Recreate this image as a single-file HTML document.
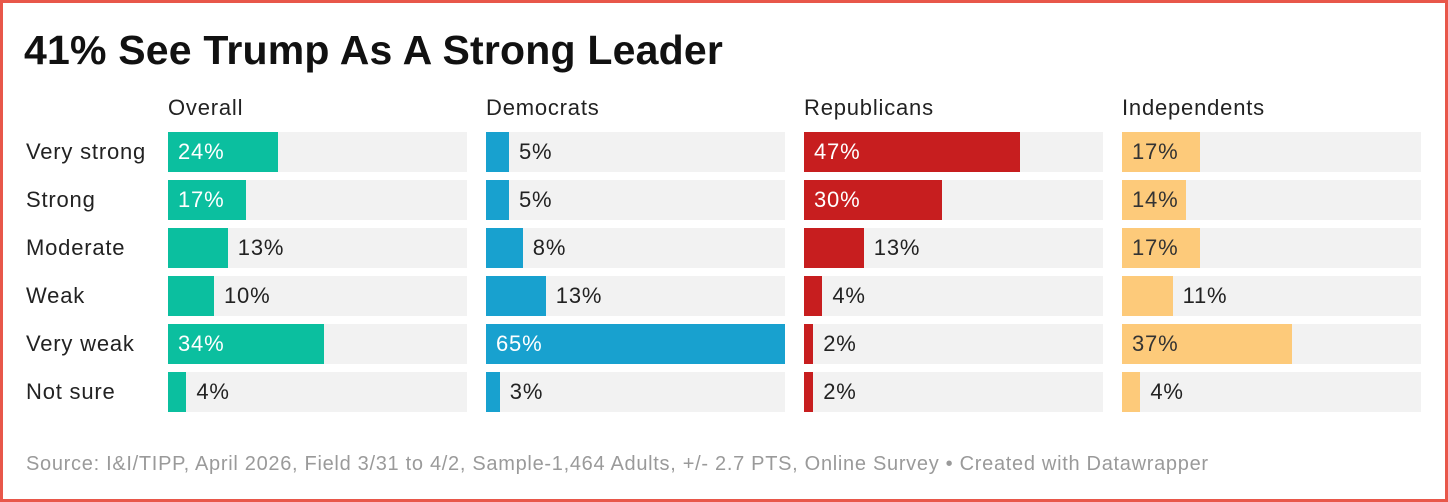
<!DOCTYPE html>
<html><head><meta charset="utf-8">
<style>
body{margin:0;width:1448px;height:502px;overflow:hidden;background:#fff;font-family:"Liberation Sans",sans-serif;}
#frame{position:absolute;left:0;top:0;width:1442px;height:496px;border:3px solid #e8574a;}
#title{position:absolute;left:24px;top:27px;font-size:41px;font-weight:bold;color:#111;letter-spacing:0.2px;}
#footer{position:absolute;left:26px;top:453px;font-size:20px;color:#9a9a9a;letter-spacing:0.7px;}
.t{position:absolute;font-size:22px;color:#222;white-space:nowrap;line-height:40px;letter-spacing:0.8px;}
.h{position:absolute;font-size:22px;color:#222;top:95px;letter-spacing:0.8px;}
</style></head><body>
<div id="frame"></div>
<div id="title">41% See Trump As A Strong Leader</div>
<div id="chart"></div>
<div id="footer">Source: I&amp;I/TIPP, April 2026, Field 3/31 to 4/2, Sample-1,464 Adults, +/- 2.7 PTS, Online Survey • Created with Datawrapper</div>
<script>
const categories=["Very strong","Strong","Moderate","Weak","Very weak","Not sure"];
const groups=["Overall","Democrats","Republicans","Independents"];
const overall=[24,17,13,10,34,4];
const democrats=[5,5,8,13,65,3];
const republicans=[47,30,13,4,2,2];
const independents=[17,14,17,11,37,4];
const series=[overall,democrats,republicans,independents];
const colors=["#0bbf9f","#18a1cf","#c71e1f","#fdca7a"];
const darkText=[false,false,false,true];
const maxVal=65;
const panelX=[168,486,804,1122], panelW=299;
const rowTop=132, rowStep=48, barH=40;
const xScale=v=>v/maxVal*panelW;
const y=i=>rowTop+i*rowStep;
const chart=document.getElementById('chart');
function mk(tag,cls){const e=document.createElement(tag);if(cls)e.className=cls;chart.appendChild(e);return e;}
categories.forEach((c,i)=>{
  const l=mk('div','t');
  
  
  l.style.left='26px';l.style.top=y(i)+'px';l.textContent=c;
});
groups.forEach((g,p)=>{
  const h=mk('div','h');
  
  
  h.style.left=panelX[p]+'px';h.textContent=g;
  series[p].forEach((v,i)=>{
    const tr=mk('div');
    
    
    tr.style.cssText=`position:absolute;left:${panelX[p]}px;top:${y(i)}px;width:${panelW}px;height:${barH}px;background:#f2f2f2;`;
    const b=mk('div');
    
    
    const w=xScale(v);
    b.style.cssText=`position:absolute;left:${panelX[p]}px;top:${y(i)}px;width:${w}px;height:${barH}px;background:${colors[p]};`;
    const t=mk('div','t');
    
    
    t.textContent=v+'%';
    t.style.top=y(i)+'px';
    if(v>=14){t.style.left=(panelX[p]+10)+'px';t.style.color=darkText[p]?'#333':'#fff';}
    else{t.style.left=(panelX[p]+w+10)+'px';}
  });
});
</script>
</body></html>
